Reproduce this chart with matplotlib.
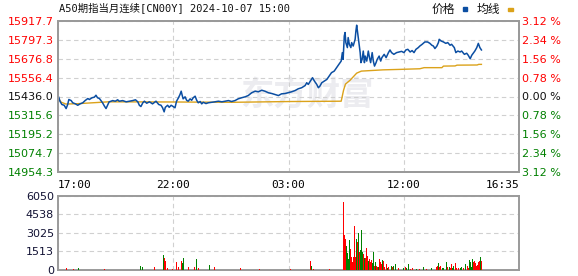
import matplotlib
matplotlib.use("Agg")
import matplotlib.pyplot as plt

plt.rcParams['font.family'] = ['DejaVu Sans', 'Noto Sans CJK SC']

title = "A50期指当月连续[CN00Y] 2024-10-07 15:00"
prev_close = 15436.0
total_minutes = 1190  # 17:00 -> 05:15 plus 09:00 -> 16:35

price_ticks = [15917.7, 15797.3, 15676.8, 15556.4, 15436.0, 15315.6, 15195.2, 15074.7, 14954.3]
pct_labels = ["3.12 %", "2.34 %", "1.56 %", "0.78 %", "0.00 %", "0.78 %", "1.56 %", "2.34 %", "3.12 %"]
time_labels = ["17:00", "22:00", "03:00", "12:00", "16:35"]
vol_ticks = [0, 1513, 3025, 4538, 6050]

# minutes since 17:00 / price
price_min = [2, 5, 10, 16, 21, 25, 28, 34, 38, 45, 51, 57, 64, 70, 77, 81, 88, 94, 98, 102,
             107, 111, 115, 120, 124, 128, 132, 137, 141, 148, 154, 158, 167, 176, 184, 193, 200, 206, 210, 214,
             219, 223, 229, 236, 244, 253, 260, 266, 270, 274, 277, 283, 287, 292, 296, 302, 306, 311, 315, 318,
             320, 323, 328, 332, 336, 341, 345, 349, 354, 358, 362, 367, 371, 375, 382, 388, 397, 405, 414, 423,
             431, 440, 448, 457, 465, 474, 483, 491, 500, 509, 517, 526, 534, 543, 552, 560, 569, 577, 586, 594,
             603, 612, 620, 629, 638, 642, 646, 653, 657, 662, 668, 672, 676, 681, 687, 694, 700, 706, 713, 719,
             725, 731, 734, 736, 739, 741, 743, 747, 749, 752, 756, 758, 762, 767, 769, 771, 774, 777, 780, 782,
             785, 788, 791, 793, 797, 801, 804, 807, 811, 814, 817, 821, 824, 829, 833, 836, 842, 847, 853, 857,
             861, 867, 874, 881, 887, 893, 898, 903, 909, 914, 919, 924, 930, 934, 940, 947, 954, 960, 965, 969,
             973, 978, 982, 984, 989, 995, 1001, 1006, 1012, 1016, 1023, 1027, 1032, 1038, 1042, 1049, 1055, 1059, 1064, 1068,
             1072, 1076, 1081, 1085, 1089, 1093]
price = [15431, 15406, 15385, 15380, 15359, 15385, 15417, 15410, 15396, 15389, 15380, 15389, 15396, 15410, 15423, 15417, 15428, 15432, 15444, 15428,
         15423, 15410, 15396, 15374, 15359, 15380, 15402, 15406, 15410, 15406, 15415, 15406, 15410, 15402, 15406, 15410, 15415, 15402, 15380, 15372,
         15396, 15406, 15393, 15402, 15389, 15406, 15385, 15380, 15364, 15338, 15367, 15380, 15367, 15380, 15374, 15364, 15406, 15428, 15449, 15470,
         15449, 15421, 15434, 15412, 15406, 15421, 15412, 15428, 15438, 15412, 15396, 15404, 15389, 15399, 15391, 15396, 15399, 15402, 15406, 15402,
         15406, 15410, 15404, 15410, 15421, 15428, 15434, 15442, 15460, 15470, 15466, 15476, 15470, 15460, 15455, 15449, 15442, 15453, 15455, 15460,
         15466, 15474, 15485, 15492, 15506, 15524, 15513, 15540, 15556, 15534, 15513, 15492, 15502, 15524, 15534, 15545, 15566, 15588, 15598, 15620,
         15641, 15662, 15716, 15673, 15822, 15844, 15780, 15748, 15812, 15769, 15748, 15780, 15758, 15801, 15854, 15891, 15833, 15780, 15716, 15652,
         15673, 15726, 15652, 15694, 15662, 15726, 15684, 15652, 15716, 15662, 15630, 15652, 15673, 15694, 15662, 15684, 15705, 15684, 15716, 15733,
         15716, 15705, 15716, 15720, 15724, 15716, 15733, 15737, 15720, 15729, 15716, 15737, 15748, 15758, 15769, 15784, 15784, 15775, 15763, 15758,
         15742, 15758, 15780, 15801, 15790, 15784, 15775, 15780, 15763, 15769, 15748, 15716, 15726, 15720, 15726, 15705, 15712, 15699, 15677, 15699,
         15712, 15726, 15748, 15775, 15748, 15733]

avg_min = [0, 8, 20, 50, 90, 130, 300, 450, 600, 731, 734, 737, 742, 754, 771, 783, 839, 883, 934, 945,
           991, 995, 1025, 1030, 1082, 1086, 1093]
avg_price = [15428, 15400, 15388, 15390, 15396, 15402, 15401, 15399, 15404, 15406, 15440, 15475, 15515, 15540, 15585, 15598, 15606, 15609, 15613, 15620,
             15620, 15630, 15631, 15636, 15637, 15641, 15641]

# volume bars: minute, volume, up (1 = red) / down (0 = green)
vol_min = [18, 23, 26, 40, 54, 80, 120, 160, 212, 219, 235, 248, 272, 274, 278, 283, 295, 306, 311, 315,
           318, 321, 323, 328, 336, 352, 358, 362, 369, 392, 403, 470, 520, 568, 600, 640, 652, 655, 659, 700,
           737, 739, 742, 744, 747, 749, 752, 755, 757, 760, 762, 765, 768, 770, 773, 775, 778, 780, 783, 786,
           788, 791, 793, 796, 799, 801, 804, 806, 809, 811, 814, 817, 819, 822, 824, 827, 830, 832, 836, 838,
           841, 843, 847, 850, 854, 857, 860, 864, 867, 872, 875, 879, 883, 888, 891, 896, 900, 904, 909, 916,
           926, 933, 943, 952, 965, 973, 976, 979, 982, 984, 988, 992, 995, 999, 1003, 1006, 1010, 1014, 1016, 1019,
           1022, 1026, 1029, 1033, 1038, 1042, 1046, 1051, 1053, 1057, 1059, 1062, 1064, 1067, 1070, 1072, 1075, 1077, 1080, 1083,
           1085, 1088, 1090, 1093]
vol = [355, 200, 250, 80, 150, 70, 90, 80, 300, 280, 150, 250, 1260, 990, 770, 150, 100, 635, 280, 440,
       770, 550, 965, 390, 280, 280, 880, 200, 330, 440, 280, 170, 90, 120, 80, 600, 770, 300, 120, 90,
       5555, 2830, 2560, 1925, 1375, 910, 2420, 1730, 1045, 630, 1100, 3575, 1100, 2560, 2280, 3025, 1460, 1595, 3245, 1460,
       1320, 990, 990, 1815, 1180, 770, 910, 630, 825, 550, 1510, 360, 630, 360, 220, 275, 910, 630, 495, 825,
       715, 275, 495, 165, 220, 165, 360, 275, 360, 495, 275, 140, 165, 275, 165, 275, 165, 495, 110, 165,
       55, 55, 275, 110, 165, 850, 275, 360, 550, 220, 360, 165, 165, 165, 690, 275, 275, 165, 495, 165,
       360, 550, 165, 165, 165, 275, 165, 495, 220, 360, 165, 825, 630, 275, 910, 630, 715, 550, 360, 440,
       630, 770, 1100, 770]
vol_up = [0, 1, 1, 1, 0, 1, 1, 1, 0, 0, 0, 1, 0, 1, 1, 1, 1, 1, 1, 1,
          1, 0, 0, 1, 1, 1, 0, 1, 0, 0, 1, 1, 1, 0, 1, 1, 1, 0, 1, 1,
          1, 1, 1, 0, 0, 0, 0, 1, 1, 1, 1, 1, 1, 0, 1, 0, 1, 0, 0, 0,
          1, 0, 1, 1, 1, 0, 1, 1, 1, 0, 0, 1, 0, 1, 1, 0, 1, 1, 1, 0,
          1, 1, 1, 0, 1, 1, 0, 1, 0, 0, 1, 1, 1, 0, 0, 1, 0, 0, 1, 1,
          0, 1, 0, 1, 0, 0, 1, 1, 0, 1, 1, 0, 0, 1, 0, 1, 0, 1, 1, 0,
          0, 1, 1, 1, 0, 0, 1, 0, 1, 1, 1, 0, 0, 0, 0, 1, 1, 1, 1, 1,
          1, 1, 0, 1]

RED = '#ff0000'
GREEN = '#008000'
BLUE = '#0b4ea2'
GOLD = '#dba21a'
FRAME = '#9a9a9a'
GRID = '#d0d0d0'

fig = plt.figure(figsize=(5.78, 2.76), dpi=100)
ax = fig.add_axes([58 / 578, 1 - 172 / 276, 461 / 578, 151 / 276])
axv = fig.add_axes([58 / 578, 1 - 270 / 276, 461 / 578, 74 / 276])

xticks = [total_minutes * i / 4 for i in range(5)]

# price panel
ax.text(0.54, 0.5, "东方财富", transform=ax.transAxes, ha='center', va='center',
        fontsize=24, fontweight='bold', color='#ececf0', zorder=0,
        family=['Noto Sans CJK SC'])
ax.plot(avg_min, avg_price, color=GOLD, lw=1.0, zorder=3)
ax.plot(price_min, price, color=BLUE, lw=1.1, zorder=4)
ax.set_xlim(0, total_minutes)
ax.set_ylim(price_ticks[-1], price_ticks[0])
ax.set_yticks(price_ticks)
ax.set_yticklabels([f"{p:.1f}" for p in price_ticks])
ax.set_xticks(xticks)
ax.set_xticklabels(time_labels, family=['DejaVu Sans Mono'], fontsize=7.5)
xl = ax.get_xticklabels()
xl[0].set_ha('left')
xl[-1].set_ha('right')
ax.tick_params(axis='both', length=0, labelsize=8)
ax.tick_params(axis='x', pad=6)
ax.tick_params(axis='y', pad=3)
ax.grid(True, color=GRID, ls=(0, (4, 3)), lw=0.8)

ax2 = ax.twinx()
ax2.set_ylim(ax.get_ylim())
ax2.set_yticks(price_ticks)
ax2.set_yticklabels(pct_labels)
ax2.tick_params(axis='y', length=0, labelsize=8, pad=2)

for lab_list in (ax.get_yticklabels(), ax2.get_yticklabels()):
    for i, lab in enumerate(lab_list):
        if i < 4:
            lab.set_color(RED)
        elif i == 4:
            lab.set_color('#111111')
        else:
            lab.set_color(GREEN)

for a in (ax, ax2, axv):
    for s in a.spines.values():
        s.set_color(FRAME)
        s.set_linewidth(1.4)

# title and legend
fig.text(59 / 578, 1 - 8 / 276, title, ha='left', va='center', fontsize=7.5,
         family=['DejaVu Sans Mono', 'Noto Sans CJK SC'], color='#111111')
fig.text(455 / 578, 1 - 9 / 276, "价格", ha='right', va='center', fontsize=8.5,
         family=['Noto Sans CJK SC'], color='#111111')
fig.text(500 / 578, 1 - 9 / 276, "均线", ha='right', va='center', fontsize=8.5,
         family=['Noto Sans CJK SC'], color='#111111')
fig.patches.append(plt.Rectangle((463 / 578, 1 - 11 / 276), 4 / 578, 4 / 276,
                                 transform=fig.transFigure, color=BLUE, figure=fig))
fig.patches.append(plt.Rectangle((508 / 578, 1 - 11 / 276), 5 / 578, 3 / 276,
                                 transform=fig.transFigure, color=GOLD, figure=fig))

# volume panel
colors = [RED if u else GREEN for u in vol_up]
axv.bar(vol_min, vol, width=2.2, color=colors, linewidth=0, zorder=3)
axv.set_xlim(0, total_minutes)
axv.set_ylim(0, vol_ticks[-1])
axv.set_yticks(vol_ticks)
axv.set_yticklabels([str(v) for v in vol_ticks])
axv.set_xticks(xticks)
axv.set_xticklabels([])
axv.tick_params(axis='both', length=0, labelsize=8, labelcolor='#111133')
axv.tick_params(axis='y', pad=3)
axv.grid(True, color=GRID, ls=(0, (4, 3)), lw=0.8)

fig.savefig("out.png", dpi=100)
